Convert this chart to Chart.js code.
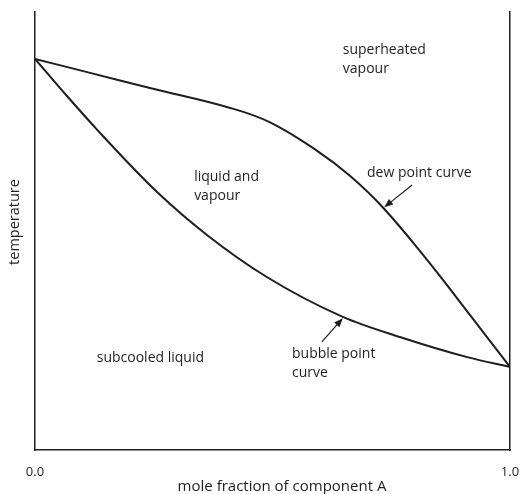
<!DOCTYPE html>
<html>
<head>
<meta charset="utf-8">
<script src="https://cdn.jsdelivr.net/npm/chart.js@4"></script>
<style>
  html, body { margin: 0; padding: 0; background: #fff; }
  #wrap { width: 520px; height: 494px; position: relative; }
</style>
</head>
<body>
<div id="wrap"><canvas id="chart_1" width="520" height="494"></canvas></div>
<script>
// mole fraction of A (x) vs temperature (arbitrary units, 0..100)
const dewX = [0, 0.116, 0.242, 0.411, 0.495, 0.594, 0.663, 0.733, 0.825, 0.916, 1]
const dewT = [89.3, 86.1, 82.65, 78.1, 74.8, 68.3, 62.6, 55.3, 43.45, 30.8, 18.95]
const bubbleX = [0, 0.065, 0.131, 0.257, 0.362, 0.488, 0.648, 0.768, 0.910, 1]
const bubbleT = [89.3, 81.1, 73.1, 58.9, 49.1, 39.5, 30.4, 25.8, 21.2, 18.95]
const xTicks = [0, 1]

// region labels, placed in data coords (left edge, first line centre)
const labels = [
  { text: ['superheated', 'vapour'], x: 0.648, t: 91.3 },
  { text: ['liquid and', 'vapour'], x: 0.335, t: 62.3 },
  { text: ['dew point curve'], x: 0.699, t: 63.2 },
  { text: ['subcooled liquid'], x: 0.13, t: 21.0 },
  { text: ['bubble point', 'curve'], x: 0.541, t: 21.9 }
]
const arrows = [
  { from: [0.794, 60.5], to: [0.735, 55.4] },
  { from: [0.604, 24.7], to: [0.648, 30.1] }
]

const ink = '#1e1e1e'
const font = "'Open Sans', 'Noto Sans', sans-serif"
const fsize = 14

const toPts = (xs, ts) => xs.map((x, i) => ({ x: x, y: ts[i] }))

const notes = {
  id: 'notes',
  afterDatasetsDraw(chart) {
    const { ctx, scales: { x, y } } = chart
    ctx.save()
    ctx.fillStyle = ink
    ctx.font = fsize + 'px ' + font
    ctx.textBaseline = 'middle'
    ctx.textAlign = 'left'
    labels.forEach(l => {
      l.text.forEach((s, i) => {
        ctx.fillText(s, x.getPixelForValue(l.x), y.getPixelForValue(l.t) + i * 19)
      })
    })
    // axis titles sit a little off-centre in the original
    ctx.textAlign = 'center'
    ctx.font = '15px ' + font
    ctx.fillText('mole fraction of component A', 282, 487)
    ctx.save()
    ctx.translate(15, 222)
    ctx.rotate(-Math.PI / 2)
    ctx.font = '14.5px ' + font
    ctx.fillText('temperature', 0, 0)
    ctx.restore()

    ctx.strokeStyle = ink
    ctx.lineWidth = 1.2
    arrows.forEach(a => {
      const x1 = x.getPixelForValue(a.from[0]), y1 = y.getPixelForValue(a.from[1])
      const x2 = x.getPixelForValue(a.to[0]), y2 = y.getPixelForValue(a.to[1])
      const ang = Math.atan2(y2 - y1, x2 - x1)
      ctx.beginPath()
      ctx.moveTo(x1, y1)
      ctx.lineTo(x2 - 6 * Math.cos(ang), y2 - 6 * Math.sin(ang))
      ctx.stroke()
      ctx.beginPath()
      ctx.moveTo(x2, y2)
      ctx.lineTo(x2 - 9 * Math.cos(ang) + 3.5 * Math.sin(ang), y2 - 9 * Math.sin(ang) - 3.5 * Math.cos(ang))
      ctx.lineTo(x2 - 9 * Math.cos(ang) - 3.5 * Math.sin(ang), y2 - 9 * Math.sin(ang) + 3.5 * Math.cos(ang))
      ctx.closePath()
      ctx.fill()
    })
    ctx.restore()
  }
}

new Chart('chart_1', {
  type: 'scatter',
  data: {
    datasets: [
      { label: 'dew point curve', data: toPts(dewX, dewT), tension: 0.4 },
      { label: 'bubble point curve', data: toPts(bubbleX, bubbleT), cubicInterpolationMode: 'monotone' }
    ]
  },
  options: {
    responsive: false,
    animation: false,
    showLine: true,
    layout: { padding: { top: 12, left: 0, right: 0, bottom: 0 } },
    elements: {
      point: { radius: 0 },
      line: { borderColor: ink, borderWidth: 2, fill: false }
    },
    plugins: { legend: { display: false }, tooltip: { enabled: false } },
    scales: {
      x: {
        type: 'linear', min: 0, max: 1,
        afterBuildTicks: s => { s.ticks = xTicks.map(v => ({ value: v })) },
        afterFit: s => { s.height = 44; s.paddingLeft = 0; s.paddingRight = 0 },
        grid: { display: false },
        border: { display: true, color: ink, width: 1.5 },
        ticks: { color: ink, font: { family: font, size: 13 }, padding: 6, maxRotation: 0, callback: v => v.toFixed(1) }
      },
      y: {
        type: 'linear', min: 0, max: 100,
        afterFit: s => { s.width = 35 },
        grid: { display: false },
        border: { display: true, color: ink, width: 1.5 },
        ticks: { display: false }
      },
      y2: {
        type: 'linear', position: 'right', min: 0, max: 100,
        afterFit: s => { s.width = 10 },
        grid: { display: false },
        border: { display: true, color: ink, width: 1.5 },
        ticks: { display: false }
      }
    }
  },
  plugins: [notes]
})
</script>
</body>
</html>
